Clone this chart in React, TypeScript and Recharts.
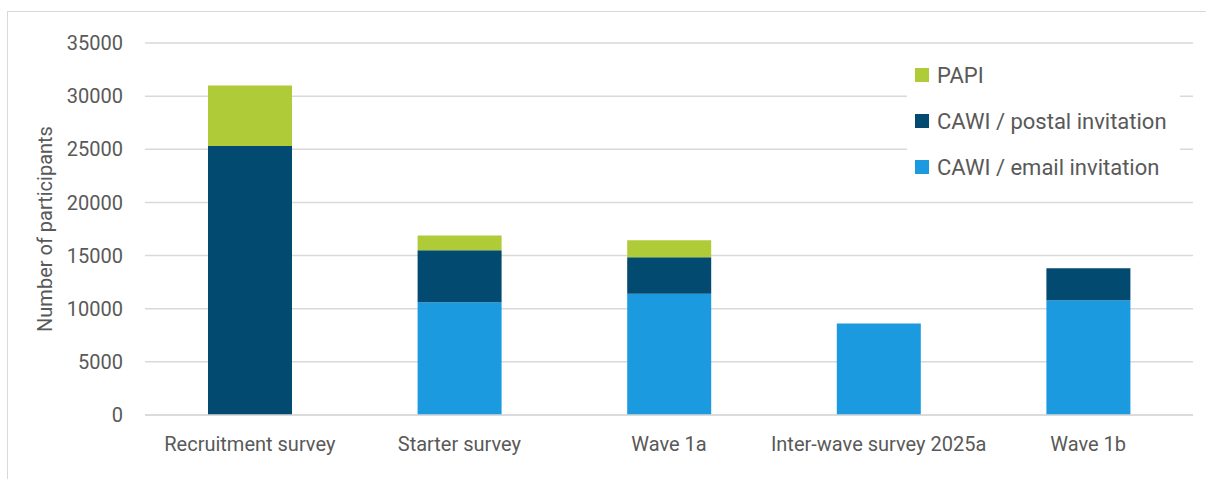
import React from "react";
import { BarChart, Bar, XAxis, YAxis, CartesianGrid } from "recharts";

const categories = [
  "Recruitment survey",
  "Starter survey",
  "Wave 1a",
  "Inter-wave survey 2025a",
  "Wave 1b",
];
const emailInvitation = [0, 10600, 11400, 8600, 10800];
const postalInvitation = [25300, 4900, 3450, 0, 3000];
const papi = [5700, 1400, 1600, 0, 0];
const yTicks = [0, 5000, 10000, 15000, 20000, 25000, 30000, 35000];

const seriesNames = {
  email: "CAWI / email invitation",
  postal: "CAWI / postal invitation",
  papi: "PAPI",
};
const colors = {
  email: "#1B9ADF",
  postal: "#024A6F",
  papi: "#B0CB38",
};

const data = categories.map((c, i) => ({
  name: c,
  email: emailInvitation[i],
  postal: postalInvitation[i],
  papi: papi[i],
}));

const FONT = "Roboto, 'Noto Sans', sans-serif";
const TEXT = "#595959";

const LegendBox = () => {
  const items = [
    { key: "papi", label: seriesNames.papi, color: colors.papi },
    { key: "postal", label: seriesNames.postal, color: colors.postal },
    { key: "email", label: seriesNames.email, color: colors.email },
  ];
  return (
    <div
      style={{
        position: "absolute",
        left: 907,
        top: 52,
        width: 273,
        background: "#fff",
        padding: "0 0 0 8px",
        boxSizing: "border-box",
      }}
    >
      {items.map((it) => (
        <div
          key={it.key}
          style={{ display: "flex", alignItems: "center", height: 46, fontFamily: FONT, fontSize: 22, color: TEXT, whiteSpace: "nowrap" }}
        >
          <span style={{ display: "inline-block", width: 14, height: 14, background: it.color, marginRight: 8 }} />
          <span>{it.label}</span>
        </div>
      ))}
    </div>
  );
};

export default function App() {
  return (
    <div style={{ position: "absolute", left: 0, top: 0, width: 1206, height: 479, background: "#fff" }}>
      <div
        style={{
          position: "absolute",
          left: 7,
          top: 11,
          width: 1210,
          height: 480,
          border: "1px solid #D9D9D9",
          boxSizing: "border-box",
        }}
      />
      <div style={{ position: "absolute", left: 0, top: 0 }}>
        <BarChart
          width={1206}
          height={479}
          data={data}
          margin={{ top: 43, right: 13, bottom: 0, left: 0 }}
          barSize={84}
        >
          <CartesianGrid vertical={false} stroke="#D9D9D9" strokeWidth={1.5} />
          <XAxis
            dataKey="name"
            height={64}
            axisLine={{ stroke: "#D9D9D9", strokeWidth: 1.5 }}
            tickLine={false}
            tickMargin={16}
            interval={0}
            tick={{ fill: TEXT, fontSize: 20, fontFamily: FONT }}
          />
          <YAxis
            width={145}
            domain={[0, 35000]}
            ticks={yTicks}
            axisLine={false}
            tickLine={false}
            tickMargin={16}
            tick={{ fill: TEXT, fontSize: 20, fontFamily: FONT }}
            label={{
              value: "Number of participants",
              angle: -90,
              position: "insideLeft",
              offset: 45,
              style: { textAnchor: "middle", fill: TEXT, fontSize: 20, fontFamily: FONT },
            }}
          />
          <Bar dataKey="email" name={seriesNames.email} stackId="a" fill={colors.email} isAnimationActive={false} />
          <Bar dataKey="postal" name={seriesNames.postal} stackId="a" fill={colors.postal} isAnimationActive={false} />
          <Bar dataKey="papi" name={seriesNames.papi} stackId="a" fill={colors.papi} isAnimationActive={false} />
        </BarChart>
      </div>
      <LegendBox />
    </div>
  );
}
